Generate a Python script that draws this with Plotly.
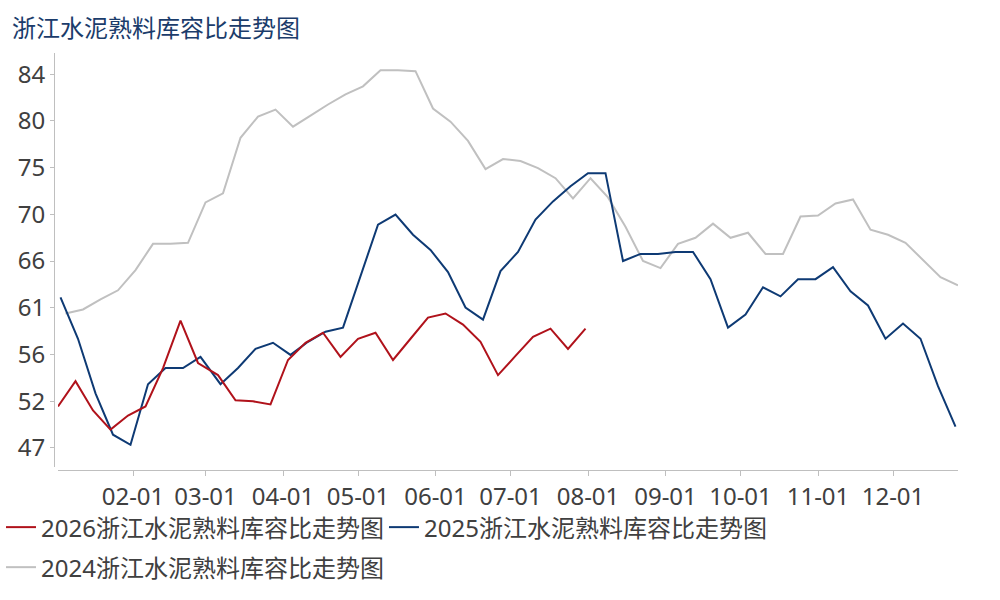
import pandas as pd

# Data viz
import plotly.graph_objs as go

TITLE = "浙江水泥熟料库容比走势图"
NAMES = ["2026浙江水泥熟料库容比走势图", "2025浙江水泥熟料库容比走势图", "2024浙江水泥熟料库容比走势图"]
COLORS = ["#B0121B", "#0E3A74", "#C0C0C0"]

# first weekly date of each year (weekly points, Fridays)
START_2026 = "2026-01-02"
START_2025 = "2025-01-03"
START_2024 = "2024-01-05"

VALUES_2026 = [
    51.3, 53.8, 50.9, 49.0, 50.4, 51.3, 55.1, 59.8, 55.6, 54.4,
    51.9, 51.8, 51.5, 55.9, 57.6, 58.6, 56.2, 58.0, 58.6, 55.9,
    58.0, 60.1, 60.5, 59.4, 57.7, 54.4, 56.3, 58.2, 59.0, 57.0,
    59.0,
]
VALUES_2025 = [
    62.1, 58.0, 52.6, 48.5, 47.5, 53.5, 55.1, 55.1, 56.2, 53.5,
    55.1, 57.0, 57.6, 56.4, 57.7, 58.7, 59.1, 64.3, 69.3, 70.3,
    68.3, 66.8, 64.6, 61.1, 59.9, 64.7, 66.6, 69.8, 71.6, 73.1,
    74.4, 74.4, 65.7, 66.4, 66.4, 66.6, 66.6, 63.9, 59.1, 60.4,
    63.1, 62.2, 63.9, 63.9, 65.1, 62.7, 61.3, 58.0, 59.5, 58.0,
    53.3, 49.3,
]
VALUES_2024 = [
    60.5, 60.9, 61.9, 62.8, 64.8, 67.4, 67.4, 67.5, 71.5, 72.4,
    77.9, 80.0, 80.7, 79.0, 80.1, 81.2, 82.2, 83.0, 84.6, 84.6,
    84.5, 80.8, 79.5, 77.6, 74.8, 75.8, 75.6, 74.9, 73.9, 71.9,
    73.9, 72.0, 69.1, 65.7, 65.0, 67.4, 68.0, 69.4, 68.0, 68.5,
    66.4, 66.4, 70.1, 70.2, 71.4, 71.8, 68.8, 68.3, 67.5, 65.8,
    64.1, 63.3,
]

# y axis labels sit on an even step
Y_TICKS = [47.2, 51.8, 56.45, 61.1, 65.7, 70.3, 74.95, 79.6, 84.2]
Y_LABELS = ["47", "52", "56", "61", "66", "70", "75", "80", "84"]


def month_day(start, values):
    """
    Weekly dates of one year put on a common 2024 calendar
    """
    dates = pd.date_range(start=start, periods=len(values), freq="7D")
    return dates.strftime("2024-%m-%d")


series = [
    (START_2026, VALUES_2026),
    (START_2025, VALUES_2025),
    (START_2024, VALUES_2024),
]
legend_ids = ["legend", "legend2", "legend3"]

font = "Noto Sans, Noto Sans CJK SC, sans-serif"
text_color = "#404040"

# declare figure
fig = go.Figure()

# gray first so it is drawn underneath
for i in [2, 1, 0]:
    start, values = series[i]
    fig.add_trace(
        go.Scatter(
            x=month_day(start, values),
            y=values,
            mode="lines",
            line=dict(color=COLORS[i], width=2),
            name=NAMES[i],
            legend=legend_ids[i],
        )
    )

legend_style = dict(
    xanchor="left",
    yanchor="top",
    font=dict(family=font, size=24, color=text_color),
    itemwidth=30,
    bgcolor="rgba(0,0,0,0)",
)

# Add titles
# right margin 0 (x domain leaves the gap) so legends get no extra push pad
fig.update_layout(
    width=1000,
    height=600,
    paper_bgcolor="white",
    plot_bgcolor="white",
    margin=dict(l=54, r=0, t=53, b=130),
    title=dict(
        text=TITLE,
        x=0.012,
        xanchor="left",
        y=0.953,
        yanchor="middle",
        font=dict(family=font, size=24, color="#1B3C6B"),
    ),
    font=dict(family=font, size=24, color=text_color),
    showlegend=True,
    legend=dict(x=-0.056, y=-0.084, **legend_style),
    legend2=dict(x=0.3488, y=-0.084, **legend_style),
    legend3=dict(x=-0.056, y=-0.18, **legend_style),
)

# X-Axes
fig.update_xaxes(
    type="date",
    range=["2024-01-02", "2024-12-27"],
    domain=[0.00423, 0.9556],
    anchor="free",
    position=0,
    automargin=False,
    dtick="M1",
    tick0="2024-01-01",
    tickformat="%m-%d",
    showgrid=False,
    zeroline=False,
    showline=True,
    linecolor="#BFBFBF",
    linewidth=1,
    ticks="outside",
    ticklen=5,
    tickcolor="#BFBFBF",
    tickfont=dict(family=font, size=24, color=text_color),
)

# Y-Axes
fig.update_yaxes(
    range=[45.3, 86.3],
    domain=[0.0072, 1],
    anchor="free",
    position=0,
    automargin=False,
    tickvals=Y_TICKS,
    ticktext=Y_LABELS,
    showgrid=False,
    zeroline=False,
    showline=True,
    linecolor="#BFBFBF",
    linewidth=1,
    ticks="outside",
    ticklen=4,
    tickcolor="#BFBFBF",
    tickfont=dict(family=font, size=24, color=text_color),
)

# page margin off so the figure sits at the window corner
fig.write_html(
    "out.html",
    config={"displayModeBar": False},
    post_script="document.body.style.margin = '0';",
)
